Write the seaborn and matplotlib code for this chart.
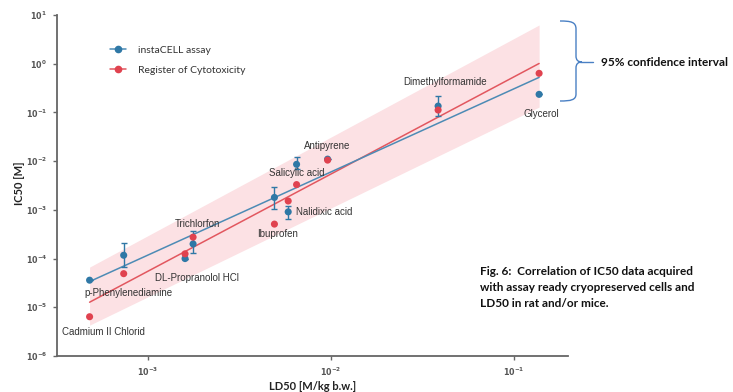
import numpy as np
import pandas as pd
import matplotlib
matplotlib.use("Agg")
import matplotlib.pyplot as plt
from matplotlib.lines import Line2D
from matplotlib.path import Path
from matplotlib.patches import PathPatch
from matplotlib.ticker import FuncFormatter
import seaborn as sns

# ---------------- data ----------------
compounds = ["Cadmium II Chlorid", "p-Phenylenediamine", "DL-Propranolol HCl", "Trichlorfon",
             "Ibuprofen", "Nalidixic acid", "Salicylic acid", "Antipyrene",
             "Dimethylformamide", "Glycerol"]
ld50 = [4.82e-4, 7.4e-4, 1.6e-3, 1.77e-3, 4.92e-3, 5.85e-3, 6.5e-3, 9.6e-3, 0.0385, 0.137]
ic50_instacell = [3.6e-5, 1.17e-4, 1.0e-4, 2.0e-4, 1.8e-3, 9.1e-4, 8.6e-3, 1.1e-2, 0.135, 0.235]
ic50_instacell_lo = [3.6e-5, 6.6e-5, 1.0e-4, 1.3e-4, 1.03e-3, 6.6e-4, 6.9e-3, 1.1e-2, 0.084, 0.235]
ic50_instacell_hi = [3.6e-5, 2.1e-4, 1.0e-4, 3.6e-4, 2.98e-3, 1.2e-3, 1.2e-2, 1.1e-2, 0.217, 0.235]
ic50_register = [6.4e-6, 4.9e-5, 1.25e-4, 2.75e-4, 5.1e-4, 1.52e-3, 3.3e-3, 1.05e-2, 0.112, 0.635]

# 95% confidence band edges (read at the band's two ends)
band_ld50 = [4.82e-4, 0.137]
band_upper = [6.68e-5, 6.24]
band_lower = [4.3e-6, 0.129]

series_names = ["instaCELL assay", "Register of Cytotoxicity"]
y_ticks = [1e-6, 1e-5, 1e-4, 1e-3, 1e-2, 1e-1, 1e0, 1e1]
x_ticks = [1e-3, 1e-2, 1e-1]

# label positions (layout, data coordinates of text centres)
label_pos = {
    "p-Phenylenediamine": (7.87e-4, 1.93e-5, "center"),
    "Cadmium II Chlorid": (5.76e-4, 3.14e-6, "center"),
    "DL-Propranolol HCl": (1.865e-3, 3.92e-5, "center"),
    "Trichlorfon": (1.88e-3, 5.04e-4, "center"),
    "Antipyrene": (9.55e-3, 2.07e-2, "center"),
    "Salicylic acid": (6.49e-3, 5.78e-3, "center"),
    "Nalidixic acid": (6.44e-3, 8.89e-4, "left"),
    "Ibuprofen": (5.09e-3, 3.23e-4, "center"),
    "Dimethylformamide": (0.0422, 0.427, "center"),
    "Glycerol": (0.1413, 0.0927, "center"),
}

BLUE = "#2f78a6"
BLUE_LINE = "#4d8bb5"
RED = "#e0424f"
RED_LINE = "#e2575f"
BAND = "#fce1e4"

sns.set_theme(style="white")
plt.rcParams["font.family"] = ["Liberation Sans", "DejaVu Sans"]
plt.rcParams["mathtext.fontset"] = "dejavusans"

fig = plt.figure(figsize=(7.33, 3.92), dpi=100)
ax = fig.add_axes([57 / 733, 1 - 356 / 392, (568 - 57) / 733, (356 - 15) / 392])
ax.set_xscale("log")
ax.set_yscale("log")

df = pd.DataFrame({
    "compound": compounds * 2,
    "LD50": ld50 * 2,
    "IC50": ic50_instacell + ic50_register,
    "source": [series_names[0]] * len(compounds) + [series_names[1]] * len(compounds),
})

# band
ax.fill_between(band_ld50, band_lower, band_upper, color=BAND, lw=0, zorder=1)

# regressions in log-log space
lx = np.log10(ld50)
xs_dense = np.linspace(lx.min(), lx.max(), 60)
line_parts = []
for name, vals in zip([series_names[1], series_names[0]], [ic50_register, ic50_instacell]):
    b, a = np.polyfit(lx, np.log10(vals), 1)
    line_parts.append(pd.DataFrame({"LD50": 10 ** xs_dense, "IC50": 10 ** (a + b * xs_dense),
                                    "source": name}))
line_df = pd.concat(line_parts, ignore_index=True)
sns.lineplot(data=line_df, x="LD50", y="IC50", hue="source",
             palette={series_names[0]: BLUE_LINE, series_names[1]: RED_LINE},
             hue_order=[series_names[1], series_names[0]], lw=1.1, legend=False, ax=ax, zorder=2)

# error bars (instaCELL)
yerr = np.array([np.array(ic50_instacell) - np.array(ic50_instacell_lo),
                 np.array(ic50_instacell_hi) - np.array(ic50_instacell)])
ax.errorbar(ld50, ic50_instacell, yerr=yerr, fmt="none", ecolor=BLUE, elinewidth=1,
            capsize=2.5, capthick=1, zorder=3)

sns.scatterplot(data=df, x="LD50", y="IC50", hue="source",
                hue_order=[series_names[1], series_names[0]],
                palette={series_names[0]: BLUE, series_names[1]: RED},
                s=26, edgecolor="none", legend=False, ax=ax, zorder=4)

# labels
for name, (x, y, ha) in label_pos.items():
    ax.text(x, y, name, ha=ha, va="center", fontsize=7, color="#333333", zorder=5)

ax.set_xlim(3.2e-4, 0.197)
ax.set_ylim(1e-6, 10)
ax.set_xticks(x_ticks)
ax.set_yticks(y_ticks)
ax.minorticks_off()
fmt = FuncFormatter(lambda v, p: r"$\mathbf{10^{%d}}$" % int(round(np.log10(v))))
ax.xaxis.set_major_formatter(fmt)
ax.yaxis.set_major_formatter(fmt)
for sp in ["top", "right"]:
    ax.spines[sp].set_visible(False)
for sp in ["left", "bottom"]:
    ax.spines[sp].set_color("#666666")
    ax.spines[sp].set_linewidth(1.3)
ax.tick_params(axis="both", which="major", direction="out", length=3, width=1,
               color="#666666", labelsize=5.8, labelcolor="#555555", pad=4,
               left=True, bottom=True)

ax.set_xlabel("LD50 [M/kg b.w.]", fontsize=8, fontweight="bold", family=["Lato", "DejaVu Sans"],
              color="#222222")
ax.set_ylabel("IC50 [M]", fontsize=8, fontweight="bold", family=["Lato", "DejaVu Sans"],
              color="#222222")
ax.xaxis.label.set_va("center")
ax.yaxis.label.set_va("center")
ax.xaxis.set_label_coords(0.5, -(387 - 356) / 341)
ax.yaxis.set_label_coords(-(57 - 20) / 511, (356 - 183) / 341)

handles = [Line2D([0], [0], color=BLUE_LINE, lw=1.1, marker="o", markersize=4.5,
                  markerfacecolor=BLUE, markeredgecolor=BLUE),
           Line2D([0], [0], color=RED_LINE, lw=1.1, marker="o", markersize=4.5,
                  markerfacecolor=RED, markeredgecolor=RED)]
leg = ax.legend(handles, series_names, loc="upper left", bbox_to_anchor=(0.085, 0.938),
                frameon=False, handlelength=1.6, handletextpad=1.1, labelspacing=1.05,
                prop={"family": ["Lato", "DejaVu Sans"], "size": 7.5})
for txt in leg.get_texts():
    txt.set_color("#333333")

# brace + annotation (figure pixel coordinates)
def fp(x, y):
    return (x / 733, 1 - y / 392)

verts = [fp(560, 21), fp(571, 21), fp(576, 22), fp(576, 29),
         fp(576, 56),
         fp(576, 60), fp(578, 62), fp(582, 62),
         fp(578, 62), fp(576, 64), fp(576, 68),
         fp(576, 94),
         fp(576, 100), fp(571, 101), fp(560, 101)]
codes = [Path.MOVETO, Path.CURVE4, Path.CURVE4, Path.CURVE4,
         Path.LINETO,
         Path.CURVE4, Path.CURVE4, Path.CURVE4,
         Path.CURVE4, Path.CURVE4, Path.CURVE4,
         Path.LINETO,
         Path.CURVE4, Path.CURVE4, Path.CURVE4]
fig.patches.append(PathPatch(Path(verts, codes), transform=fig.transFigure, fill=False,
                             edgecolor="#4a80c4", lw=1.0))
fig.add_artist(Line2D([fp(580, 62)[0], fp(593, 62)[0]], [fp(580, 62)[1], fp(593, 62)[1]],
                      transform=fig.transFigure, color="#4a80c4", lw=1.0))
fig.text(fp(601, 62)[0], fp(601, 62)[1], "95% confidence interval", fontsize=8.5,
         fontweight="bold", family=["Lato", "DejaVu Sans"], color="#111111", va="center", ha="left")

caption = ("Fig. 6:  Correlation of IC50 data acquired\n"
           "with assay ready cryopreserved cells and\n"
           "LD50 in rat and/or mice.")
fig.text(fp(480, 266)[0], fp(480, 266)[1], caption, fontsize=8.5, fontweight="bold",
         family=["Lato", "DejaVu Sans"], color="#111111", va="top", ha="left", linespacing=1.55)

fig.savefig("out.png", dpi=100)
